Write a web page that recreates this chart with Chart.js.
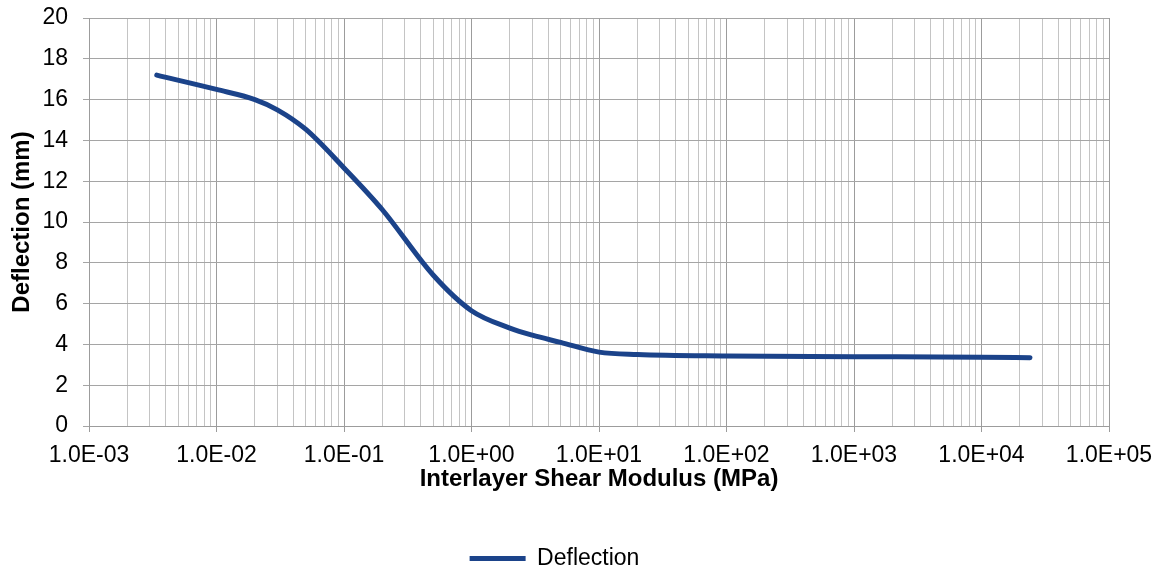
<!DOCTYPE html>
<html>
<head>
<meta charset="utf-8">
<script src="https://cdn.jsdelivr.net/npm/chart.js@4"></script>
<style>
  html, body { margin: 0; padding: 0; background: #fff; }
  #wrap { width: 1163px; height: 570px; }
</style>
</head>
<body>
<div id="wrap"><canvas id="Deflexao" width="1163" height="570"></canvas></div>
<script>
  // interlayer shear modulus (MPa)
  const modulo = [0.0034, 0.01, 0.02, 0.03, 0.05, 0.1, 0.2, 0.5, 1, 2, 3, 5, 10, 20, 100, 1000, 10000, 24000];
  // deflection (mm)
  const deflexao = [17.2, 16.5, 16.0, 15.5, 14.55, 12.65, 10.6, 7.4, 5.65, 4.8, 4.45, 4.1, 3.62, 3.5, 3.43, 3.4, 3.37, 3.35];

  const pontos = modulo.map((m, i) => ({ x: m, y: deflexao[i] }));

  const isDecada = v => Math.abs(Math.log10(v) - Math.round(Math.log10(v))) < 1e-9;
  const fmt = v => {
    const e = Math.round(Math.log10(v));
    const s = e < 0 ? '-' : '+';
    return '1.0E' + s + String(Math.abs(e)).padStart(2, '0');
  };

  const fonte = 'Liberation Sans, Arial, sans-serif';

  const config = {
    type: 'line',
    data: {
      datasets: [{
        label: 'Deflection',
        data: pontos,
        borderColor: '#1b438a',
        backgroundColor: '#1b438a',
        borderWidth: 5,
        borderCapStyle: 'round',
        borderJoinStyle: 'round',
        pointRadius: 0,
        cubicInterpolationMode: 'monotone',
        fill: false
      }]
    },
    options: {
      responsive: false,
      animation: false,
      layout: { padding: { top: 18, right: 54, left: 0, bottom: -10 } },
      plugins: {
        legend: {
          position: 'bottom',
          labels: {
            usePointStyle: true,
            pointStyle: 'line',
            pointStyleWidth: 56,
            color: '#000',
            padding: 1,
            font: { family: fonte, size: 23, lineHeight: 1 }
          }
        },
        tooltip: { enabled: false }
      },
      scales: {
        x: {
          type: 'logarithmic',
          min: 1e-3,
          max: 1e5,
          afterBuildTicks: axis => {
            const t = [];
            for (let e = -3; e < 5; e++) {
              for (let m = 1; m <= 9; m++) t.push({ value: m * Math.pow(10, e) });
            }
            t.push({ value: 1e5 });
            axis.ticks = t;
          },
          afterFit: axis => {
            axis.height = 120;
            axis.paddingLeft = 0;
            axis.paddingRight = 0;
          },
          ticks: {
            autoSkip: false,
            maxRotation: 0,
            padding: 10,
            color: '#000',
            font: { family: fonte, size: 23 },
            callback: v => isDecada(v) ? fmt(v) : ''
          },
          grid: {
            color: c => isDecada(c.tick.value) ? '#9c9c9c' : '#c4c4c4',
            tickColor: c => isDecada(c.tick.value) ? '#9c9c9c' : 'rgba(0,0,0,0)',
            tickLength: 6,
            lineWidth: 1
          },
          border: { color: '#9c9c9c' },
          title: {
            display: true,
            text: 'Interlayer Shear Modulus (MPa)',
            color: '#000',
            font: { family: fonte, size: 24, weight: 'bold' },
            padding: { top: 0, bottom: 52 }
          }
        },
        y: {
          min: 0,
          max: 20,
          afterFit: axis => {
            axis.width = 89;
            axis.paddingTop = 0;
            axis.paddingBottom = 0;
          },
          ticks: {
            stepSize: 2,
            padding: 15,
            color: '#000',
            font: { family: fonte, size: 23 }
          },
          grid: {
            color: '#a5a5a5',
            tickColor: '#a5a5a5',
            tickLength: 6,
            lineWidth: 1
          },
          border: { color: '#9c9c9c' },
          title: {
            display: true,
            text: 'Deflection (mm)',
            color: '#000',
            font: { family: fonte, size: 24, weight: 'bold' },
            padding: { top: 8, bottom: 0 }
          }
        }
      }
    }
  };

  const grafico = new Chart(document.getElementById('Deflexao'), config);
</script>
</body>
</html>
